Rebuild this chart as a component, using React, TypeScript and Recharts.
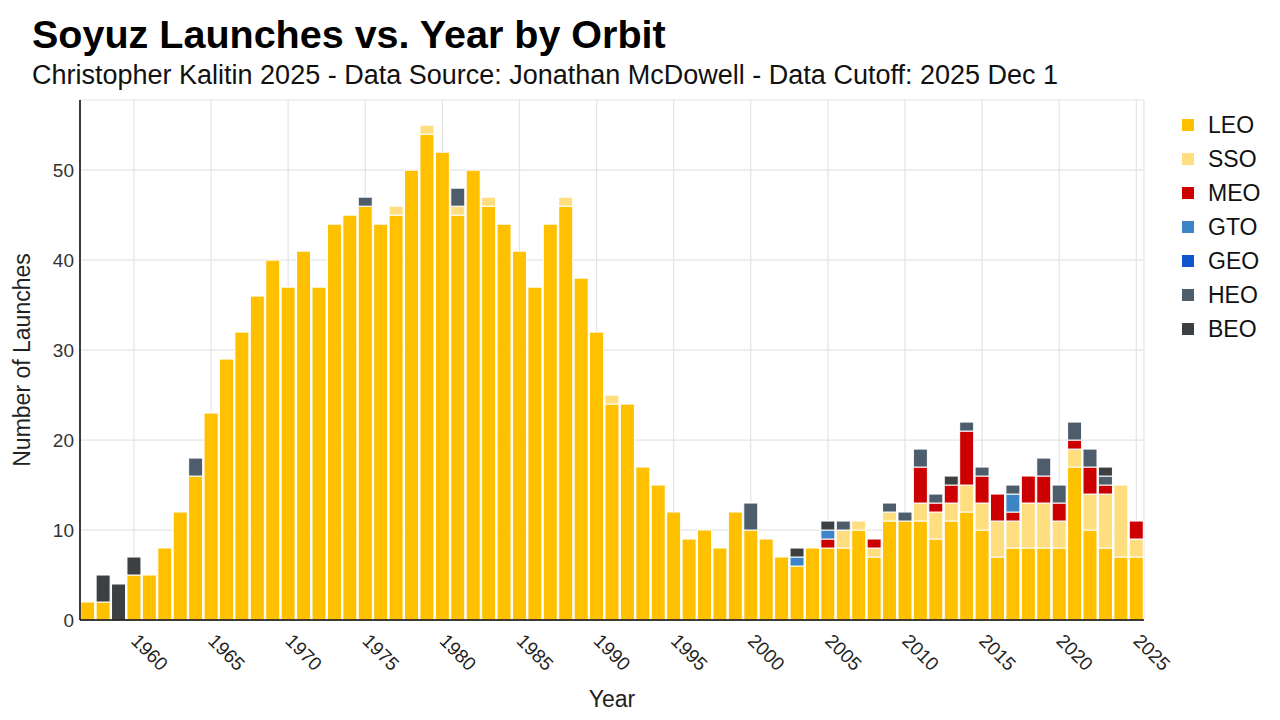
import React from 'react';
import { BarChart, Bar, XAxis, YAxis, CartesianGrid } from 'recharts';

// Launch years (categories)
const years: number[] = [
    1957, 1958, 1959, 1960, 1961, 1962, 1963, 1964, 1965, 1966,
    1967, 1968, 1969, 1970, 1971, 1972, 1973, 1974, 1975, 1976,
    1977, 1978, 1979, 1980, 1981, 1982, 1983, 1984, 1985, 1986,
    1987, 1988, 1989, 1990, 1991, 1992, 1993, 1994, 1995, 1996,
    1997, 1998, 1999, 2000, 2001, 2002, 2003, 2004, 2005, 2006,
    2007, 2008, 2009, 2010, 2011, 2012, 2013, 2014, 2015, 2016,
    2017, 2018, 2019, 2020, 2021, 2022, 2023, 2024, 2025,
];

// Launches per orbit, one value per year
const leo: number[] = [
    2, 2, 0, 5, 5, 8, 12, 16, 23, 29,
    32, 36, 40, 37, 41, 37, 44, 45, 46, 44,
    45, 50, 54, 52, 45, 50, 46, 44, 41, 37,
    44, 46, 38, 32, 24, 24, 17, 15, 12, 9,
    10, 8, 12, 10, 9, 7, 6, 8, 8, 8,
    10, 7, 11, 11, 11, 9, 11, 12, 10, 7,
    8, 8, 8, 8, 17, 10, 8, 7, 7,
];
const sso: number[] = [
    0, 0, 0, 0, 0, 0, 0, 0, 0, 0,
    0, 0, 0, 0, 0, 0, 0, 0, 0, 0,
    1, 0, 1, 0, 1, 0, 1, 0, 0, 0,
    0, 1, 0, 0, 1, 0, 0, 0, 0, 0,
    0, 0, 0, 0, 0, 0, 0, 0, 0, 2,
    1, 1, 1, 0, 2, 3, 2, 3, 3, 4,
    3, 5, 5, 3, 2, 4, 6, 8, 2,
];
const meo: number[] = [
    0, 0, 0, 0, 0, 0, 0, 0, 0, 0,
    0, 0, 0, 0, 0, 0, 0, 0, 0, 0,
    0, 0, 0, 0, 0, 0, 0, 0, 0, 0,
    0, 0, 0, 0, 0, 0, 0, 0, 0, 0,
    0, 0, 0, 0, 0, 0, 0, 0, 1, 0,
    0, 1, 0, 0, 4, 1, 2, 6, 3, 3,
    1, 3, 3, 2, 1, 3, 1, 0, 2,
];
const gto: number[] = [
    0, 0, 0, 0, 0, 0, 0, 0, 0, 0,
    0, 0, 0, 0, 0, 0, 0, 0, 0, 0,
    0, 0, 0, 0, 0, 0, 0, 0, 0, 0,
    0, 0, 0, 0, 0, 0, 0, 0, 0, 0,
    0, 0, 0, 0, 0, 0, 1, 0, 1, 0,
    0, 0, 0, 0, 0, 0, 0, 0, 0, 0,
    2, 0, 0, 0, 0, 0, 0, 0, 0,
];
const geo: number[] = [
    0, 0, 0, 0, 0, 0, 0, 0, 0, 0,
    0, 0, 0, 0, 0, 0, 0, 0, 0, 0,
    0, 0, 0, 0, 0, 0, 0, 0, 0, 0,
    0, 0, 0, 0, 0, 0, 0, 0, 0, 0,
    0, 0, 0, 0, 0, 0, 0, 0, 0, 0,
    0, 0, 0, 0, 0, 0, 0, 0, 0, 0,
    0, 0, 0, 0, 0, 0, 0, 0, 0,
];
const heo: number[] = [
    0, 0, 0, 0, 0, 0, 0, 2, 0, 0,
    0, 0, 0, 0, 0, 0, 0, 0, 1, 0,
    0, 0, 0, 0, 2, 0, 0, 0, 0, 0,
    0, 0, 0, 0, 0, 0, 0, 0, 0, 0,
    0, 0, 0, 3, 0, 0, 0, 0, 0, 1,
    0, 0, 1, 1, 2, 1, 0, 1, 1, 0,
    1, 0, 2, 2, 2, 2, 1, 0, 0,
];
const beo: number[] = [
    0, 3, 4, 2, 0, 0, 0, 0, 0, 0,
    0, 0, 0, 0, 0, 0, 0, 0, 0, 0,
    0, 0, 0, 0, 0, 0, 0, 0, 0, 0,
    0, 0, 0, 0, 0, 0, 0, 0, 0, 0,
    0, 0, 0, 0, 0, 0, 1, 0, 1, 0,
    0, 0, 0, 0, 0, 0, 1, 0, 0, 0,
    0, 0, 0, 0, 0, 0, 1, 0, 0,
];

const orbitNames: string[] = ['LEO', 'SSO', 'MEO', 'GTO', 'GEO', 'HEO', 'BEO'];
const orbitColors: string[] = ['#FFC000', '#FFDE80', '#CC0000', '#3D85C6', '#1155CC', '#4E5D6C', '#3C4043'];
const orbitValues: number[][] = [leo, sso, meo, gto, geo, heo, beo];

const xTicks: number[] = [1960, 1965, 1970, 1975, 1980, 1985, 1990, 1995, 2000, 2005, 2010, 2015, 2020, 2025];
const yTicks: number[] = [0, 10, 20, 30, 40, 50];

const data = years.map((year, i) => {
    const row: Record<string, number> = { year };
    orbitNames.forEach((name, k) => {
        row[name] = orbitValues[k][i];
    });
    return row;
});

const font = '"Liberation Sans", Arial, Helvetica, sans-serif';

const YearTick = (props: any) => {
    const { x, y, payload } = props;
    const ax = x - 4;
    const ay = y + 22;
    return (
        <text x={ax} y={ay} transform={`rotate(45, ${ax}, ${ay})`} textAnchor="start" fontSize={19} fill="#222" fontFamily={font}>
            {payload.value}
        </text>
    );
};

// legend drawn next to the plot, same order as the stack
const OrbitLegend: React.FC = () => (
    <div style={{ position: 'absolute', left: 1176, top: 108, fontFamily: font }}>
        {orbitNames.map((name, k) => (
            <div key={name} style={{ display: 'flex', alignItems: 'center', height: 34 }}>
                <div style={{ width: 12, height: 12, background: orbitColors[k], marginLeft: 6, marginRight: 14 }} />
                <span style={{ fontSize: 23, color: '#111' }}>{name}</span>
            </div>
        ))}
    </div>
);

const App: React.FC = () => {
    return (
        <div style={{ position: 'absolute', left: 0, top: 0, width: 1280, height: 720, background: '#fff', fontFamily: font }}>
            <div style={{ position: 'absolute', left: 32, top: 15, fontSize: 39.5, lineHeight: 1, fontWeight: 'bold', color: '#000', whiteSpace: 'nowrap' }}>
                Soyuz Launches vs. Year by Orbit
            </div>
            <div style={{ position: 'absolute', left: 32, top: 62, fontSize: 27, lineHeight: 1, color: '#111', whiteSpace: 'nowrap' }}>
                Christopher Kalitin 2025 - Data Source: Jonathan McDowell - Data Cutoff: 2025 Dec 1
            </div>
            <BarChart
                width={1280}
                height={720}
                data={data}
                margin={{ top: 100, right: 136, left: 30, bottom: 40 }}
                barCategoryGap={0.7}
                style={{ position: 'absolute', left: 0, top: 0 }}
            >
                <CartesianGrid stroke="#e4e4e4" strokeWidth={1.2} />
                <XAxis
                    dataKey="year"
                    type="category"
                    ticks={xTicks}
                    interval={0}
                    height={60}
                    tickLine={false}
                    tickSize={0}
                    tickMargin={0}
                    axisLine={{ stroke: '#000', strokeWidth: 1.5 }}
                    tick={<YearTick />}
                    label={{ value: 'Year', position: 'bottom', offset: 11, fontSize: 23, fill: '#222', fontFamily: font }}
                />
                <YAxis
                    width={50}
                    domain={[0, 57.8]}
                    ticks={yTicks}
                    allowDataOverflow
                    tickLine={false}
                    tickSize={0}
                    tickMargin={6}
                    axisLine={{ stroke: '#000', strokeWidth: 1.5 }}
                    tick={{ fontSize: 19, fill: '#333', fontFamily: font }}
                    label={{ value: 'Number of Launches', angle: -90, position: 'left', offset: 8, fontSize: 23, fill: '#222', fontFamily: font, style: { textAnchor: 'middle' } }}
                />
                {orbitNames.map((name, k) => (
                    <Bar
                        key={name}
                        dataKey={name}
                        name={name}
                        stackId="orbit"
                        fill={orbitColors[k]}
                        stroke="#ffffff"
                        strokeWidth={1}
                        isAnimationActive={false}
                    />
                ))}
            </BarChart>
            <OrbitLegend />
        </div>
    );
};

export default App;
